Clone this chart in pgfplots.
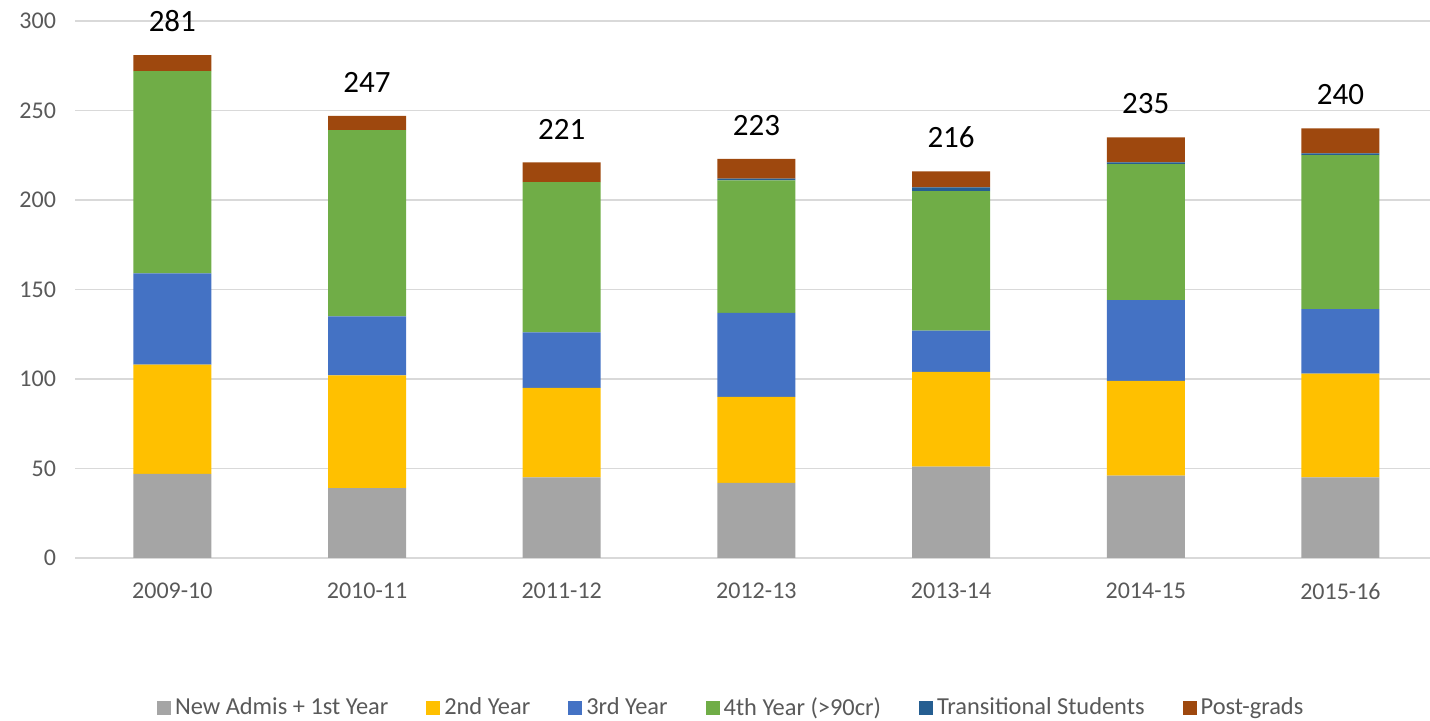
\documentclass[border=0pt]{standalone}
\usepackage{pgfplots}
\pgfplotsset{compat=1.18}
\usepackage{fontspec}
\setmainfont{Carlito}
\definecolor{cGray}{HTML}{A5A5A5}
\definecolor{cYel}{HTML}{FFC000}
\definecolor{cBlue}{HTML}{4472C4}
\definecolor{cGreen}{HTML}{70AD47}
\definecolor{cTrans}{HTML}{255E91}
\definecolor{cPost}{HTML}{9E480E}
\definecolor{tickc}{HTML}{595959}
\definecolor{gridc}{HTML}{D9D9D9}
\begin{document}
\begin{tikzpicture}
\useasboundingbox (-37.5pt,-81.5pt) rectangle (677.5pt,279pt);
\begin{axis}[
  at={(0pt,0pt)}, anchor=south west,
  scale only axis, width=677.5pt, height=268.5pt,
  clip=false,
  ybar stacked, bar width=39pt,
  xmin=-0.5, xmax=6.46, ymin=0, ymax=300,
  ytick={0,50,...,300},
  xtick=data,
  xticklabels={2009-10,2010-11,2011-12,2012-13,2013-14,2014-15,2015-16},
  axis line style={draw=none},
  ymajorgrids, grid style={gridc, line width=0.8pt},
  major tick length=0pt,
  /pgf/number format/assume math mode=true,
  tick label style={font=\fontsize{12}{14}\selectfont, text=tickc},
  yticklabel style={xshift=-6pt},
  xticklabel style={yshift=-9pt},
  legend columns=6,
  legend style={draw=none, at={(0.485,-0.279)}, anchor=center,
    font=\fontsize{12.2}{14}\selectfont, text=tickc,
    /tikz/every even column/.append style={column sep=17pt}},
  legend image code/.code={\fill[#1] (0pt,-3.5pt) rectangle (7pt,3.5pt);},
]
\addplot[fill=cGray, draw=none] coordinates {(0,47) (1,39) (2,45) (3,42) (4,51) (5,46) (6,45)};
\addplot[fill=cYel, draw=none] coordinates {(0,61) (1,63) (2,50) (3,48) (4,53) (5,53) (6,58)};
\addplot[fill=cBlue, draw=none] coordinates {(0,51) (1,33) (2,31) (3,47) (4,23) (5,45) (6,36)};
\addplot[fill=cGreen, draw=none] coordinates {(0,113) (1,104) (2,84) (3,74) (4,78) (5,76) (6,86)};
\addplot[fill=cTrans, draw=none] coordinates {(0,0) (1,0) (2,0) (3,1) (4,2) (5,1) (6,1)};
\addplot[fill=cPost, draw=none] coordinates {(0,9) (1,8) (2,11) (3,11) (4,9) (5,14) (6,14)};
\legend{New Admis + 1st Year, 2nd Year, 3rd Year, 4th Year (>90cr), Transitional Students, Post-grads}
\draw[gridc, line width=0.8pt] (axis cs:-0.5,0) -- (axis cs:6.46,0);
\node[font=\fontsize{15.5}{18}\selectfont, anchor=south, inner sep=0pt, yshift=11.5pt] at (axis cs:0,281) {281};
\node[font=\fontsize{15.5}{18}\selectfont, anchor=south, inner sep=0pt, yshift=11.5pt] at (axis cs:1,247) {247};
\node[font=\fontsize{15.5}{18}\selectfont, anchor=south, inner sep=0pt, yshift=11.5pt] at (axis cs:2,221) {221};
\node[font=\fontsize{15.5}{18}\selectfont, anchor=south, inner sep=0pt, yshift=11.5pt] at (axis cs:3,223) {223};
\node[font=\fontsize{15.5}{18}\selectfont, anchor=south, inner sep=0pt, yshift=11.5pt] at (axis cs:4,216) {216};
\node[font=\fontsize{15.5}{18}\selectfont, anchor=south, inner sep=0pt, yshift=11.5pt] at (axis cs:5,235) {235};
\node[font=\fontsize{15.5}{18}\selectfont, anchor=south, inner sep=0pt, yshift=11.5pt] at (axis cs:6,240) {240};
\end{axis}
\end{tikzpicture}
\end{document}
